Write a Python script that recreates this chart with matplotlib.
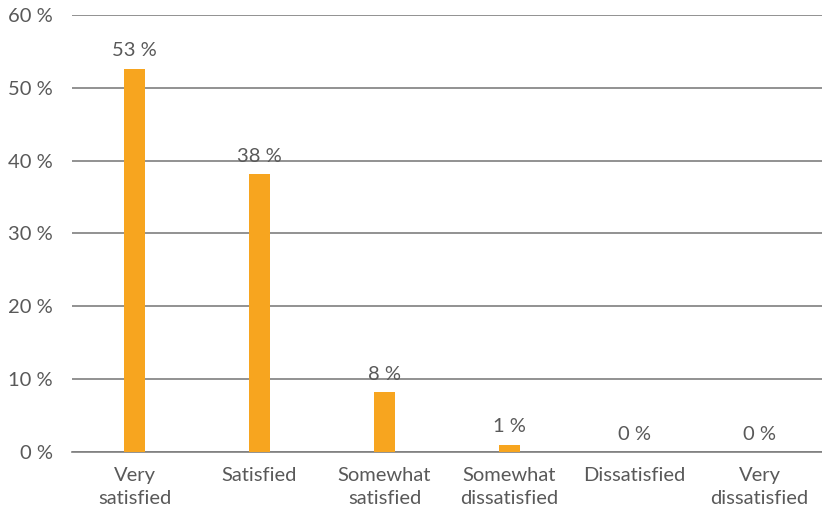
import matplotlib
matplotlib.use("Agg")
import matplotlib.pyplot as plt
from matplotlib.ticker import FuncFormatter

# Survey results
categories = ["Very\nsatisfied", "Satisfied", "Somewhat\nsatisfied",
              "Somewhat\ndissatisfied", "Dissatisfied", "Very\ndissatisfied"]
values = [52.6, 38.1, 8.2, 1.0, 0.0, 0.0]
value_labels = ["53 %", "38 %", "8 %", "1 %", "0 %", "0 %"]
y_ticks = [0, 10, 20, 30, 40, 50, 60]

bar_color = "#F7A51F"
text_color = "#595959"
grid_color = "#7F7F7F"

plt.rcParams["font.family"] = ["Lato", "DejaVu Sans"]

fig = plt.figure(figsize=(8.22, 5.15), dpi=100)
ax = fig.add_axes([0.0876, 0.1223, 0.9124, 0.8487])

x = list(range(len(categories)))
ax.bar(x, values, width=0.17, color=bar_color, zorder=3)

for xi, v, lab in zip(x, values, value_labels):
    ax.text(xi, v + 1.3, lab, ha="center", va="bottom", fontsize=14.5, color=text_color)

ax.set_xlim(-0.5, len(categories) - 0.5)
ax.set_ylim(0, 60)
ax.set_yticks(y_ticks)
ax.yaxis.set_major_formatter(FuncFormatter(lambda v, p: f"{int(v)} %"))
ax.set_xticks(x)
ax.set_xticklabels(categories, fontsize=14.5, color=text_color, linespacing=1.4)
ax.tick_params(axis="y", labelsize=14.5, labelcolor=text_color, length=0, pad=14)
ax.tick_params(axis="x", length=0, pad=11)

ax.grid(axis="y", color=grid_color, linewidth=1.2, zorder=0)
for side in ["top", "right", "left"]:
    ax.spines[side].set_visible(False)
ax.spines["bottom"].set_color(grid_color)
ax.spines["bottom"].set_linewidth(1.2)

fig.savefig("out.png", dpi=100)
